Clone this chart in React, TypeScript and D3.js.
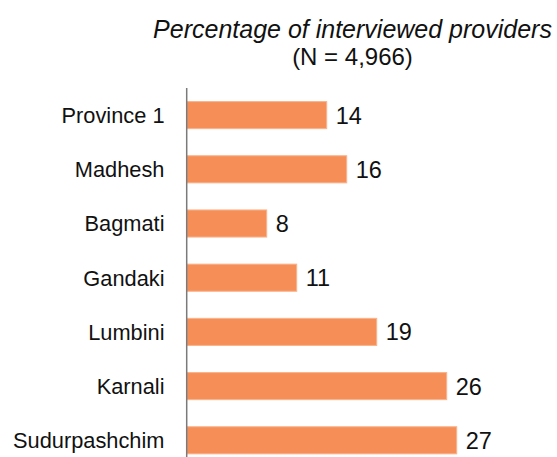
import React from "react";
import * as d3 from "d3";

const categories = ["Province 1", "Madhesh", "Bagmati", "Gandaki", "Lumbini", "Karnali", "Sudurpashchim"];
const values = [14, 16, 8, 11, 19, 26, 27];
const titleLine1 = "Percentage of interviewed providers";
const titleLine2 = "(N = 4,966)";

const W = 557;
const H = 457;
const FONT = "'Liberation Sans', Arial, sans-serif";

export default function App() {
  const axisX = 186.7;
  const x = d3.scaleLinear().domain([0, 10]).range([axisX, axisX + 100]);
  const y = d3
    .scaleBand<string>()
    .domain(categories)
    .range([88, 467.4])
    .paddingInner(0.5)
    .paddingOuter(0.25);

  return (
    <svg
      width={W}
      height={H}
      style={{ position: "absolute", left: 0, top: 0, background: "#fff" }}
      fontFamily={FONT}
    >
      <text x={352.5} y={38} textAnchor="middle" fontSize={25} fontStyle="italic" fill="#111">
        {titleLine1}
      </text>
      <text x={352.5} y={65} textAnchor="middle" fontSize={24} fill="#111">
        {titleLine2}
      </text>
      {categories.map((c, i) => {
        const yy = y(c)!;
        const bw = y.bandwidth();
        return (
          <g key={c}>
            <rect
              x={x(0)}
              y={yy}
              width={x(values[i]) - x(0)}
              height={bw}
              fill="#F68F57"
              stroke="#F9B38C"
              strokeWidth={1}
            />
            <text
              x={x(values[i]) + 9}
              y={yy + bw / 2}
              dy="0.36em"
              fontSize={23.5}
              fill="#111"
            >
              {values[i]}
            </text>
            <text
              x={164.5}
              y={yy + bw / 2}
              dy="0.36em"
              textAnchor="end"
              fontSize={21.8}
              fill="#111"
            >
              {c}
            </text>
          </g>
        );
      })}
      <line x1={axisX} x2={axisX} y1={88} y2={H} stroke="#7a7a7a" strokeWidth={1.5} />
    </svg>
  );
}
